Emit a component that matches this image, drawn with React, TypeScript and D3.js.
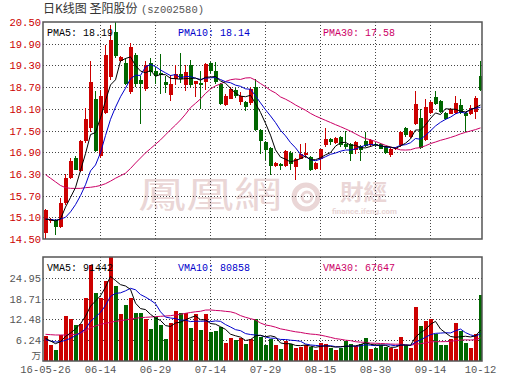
import React from 'react';
import * as d3 from 'd3';

// daily candles, 2016-05-26 .. 2016-10-12
const opens = [
  14.67, 14.99, 15.03, 14.84, 15.5, 16.19, 16.75, 16.38, 17.22, 17.58,
  18.37, 16.79, 17.99, 18.98, 20.22, 19.42, 19.37, 18.56, 19.6, 18.9,
  18.66, 19.37, 19.14, 19.09, 18.84, 18.49, 18.93, 19.07, 18.77, 19.3,
  18.79, 18.8, 18.84, 19.37, 19.15, 18.79, 18.21, 18.38, 18.62, 18.3,
  18.3, 18.25, 18.7, 17.52, 17.18, 17.02, 16.52, 16.58, 16.52, 16.89,
  16.49, 16.72, 16.83, 16.77, 16.43, 16.72, 17.09, 17.27, 17.16, 17.32,
  17.14, 17.14, 16.95, 17.07, 17.2, 17.09, 17.12, 17.14, 17.04, 16.83,
  17.0, 17.09, 17.57, 17.32, 17.69, 17.85, 17.23, 17.99, 18.43, 18.32,
  17.99, 17.97, 17.99, 18.2, 17.99, 17.97, 18.02, 19.01,
];
const highs = [
  15.34, 15.08, 15.05, 15.62, 16.31, 16.74, 16.8, 17.25, 18.12, 19.42,
  18.6, 18.62, 19.87, 20.43, 20.6, 19.56, 19.5, 19.92, 19.65, 19.02,
  19.42, 19.5, 19.25, 19.61, 19.0, 19.03, 19.32, 19.65, 19.3, 19.45,
  18.88, 19.14, 19.38, 19.4, 19.4, 18.82, 18.5, 18.69, 18.68, 18.56,
  18.32, 18.7, 18.93, 17.55, 17.2, 17.05, 16.63, 16.6, 16.95, 16.92,
  16.75, 17.14, 17.15, 16.8, 16.63, 17.0, 17.57, 17.3, 17.32, 17.35,
  17.48, 17.16, 17.2, 17.1, 17.46, 17.26, 17.15, 17.16, 17.06, 17.03,
  17.05, 17.5, 17.6, 17.52, 18.58, 18.1, 18.36, 18.32, 18.58, 18.35,
  18.02, 18.12, 18.45, 18.38, 18.02, 18.2, 18.45, 19.42,
];
const lows = [
  14.51, 14.95, 14.62, 14.8, 15.45, 16.15, 16.4, 16.35, 17.15, 17.45,
  16.9, 16.75, 17.95, 18.9, 19.5, 19.4, 18.75, 18.5, 18.7, 17.69,
  18.6, 19.0, 18.78, 18.52, 18.55, 18.31, 18.75, 18.8, 18.6, 18.7,
  18.43, 18.09, 18.61, 19.1, 18.78, 18.2, 18.18, 18.36, 18.4, 18.2,
  18.05, 18.2, 17.5, 16.84, 16.68, 16.26, 16.48, 16.4, 16.48, 16.4,
  16.12, 16.7, 16.75, 16.38, 16.4, 16.4, 17.05, 17.1, 17.12, 17.05,
  17.0, 16.67, 16.86, 16.67, 17.05, 17.05, 17.05, 16.98, 16.85, 16.78,
  16.97, 17.05, 17.33, 17.28, 17.65, 16.98, 17.2, 17.95, 18.2, 17.98,
  17.8, 17.95, 17.96, 17.96, 17.46, 17.92, 17.83, 18.58,
];
const closes = [
  15.31, 15.06, 14.84, 15.5, 16.2, 16.65, 16.42, 17.2, 17.82, 18.84,
  16.94, 18.45, 19.58, 19.99, 19.55, 19.54, 18.79, 19.81, 18.79, 18.79,
  19.3, 19.12, 19.0, 19.03, 18.77, 18.79, 19.07, 18.93, 19.12, 18.77,
  18.86, 18.77, 19.35, 19.15, 18.84, 18.24, 18.45, 18.66, 18.45, 18.45,
  18.16, 18.65, 17.52, 17.22, 16.95, 16.52, 16.61, 16.52, 16.93, 16.58,
  16.72, 16.86, 16.88, 16.4, 16.61, 16.98, 17.27, 17.18, 17.29, 17.09,
  17.04, 16.86, 17.18, 16.95, 17.07, 17.23, 17.1, 17.0, 16.89, 17.0,
  17.02, 17.46, 17.37, 17.48, 18.24, 17.02, 18.15, 18.28, 18.24, 18.01,
  17.83, 18.09, 18.26, 17.99, 17.9, 18.12, 18.4, 18.61,
];
// volume, 万 (10k)
const volumes = [
  7.5, 4.8, 3.3, 7.7, 13.5, 12.7, 10.8, 11.2, 18.8, 28.7,
  20.4, 18.8, 24.0, 35.0, 22.5, 14.2, 16.8, 18.8, 14.4, 14.4,
  12.7, 9.7, 13.3, 10.7, 6.7, 11.4, 15.0, 14.3, 14.3, 10.0,
  14.0, 9.3, 14.2, 8.7, 9.0, 10.2, 5.3, 7.0, 6.3, 7.0,
  5.2, 6.5, 12.7, 7.2, 4.7, 6.7, 4.7, 3.7, 6.0, 5.0,
  4.0, 4.3, 4.7, 4.3, 3.3, 5.3, 5.0, 4.0, 3.2, 4.0,
  6.0, 5.0, 4.5, 5.0, 7.0, 3.5, 4.0, 4.7, 4.3, 4.0,
  3.7, 7.2, 4.7, 3.9, 16.2, 10.5, 12.0, 12.5, 8.2, 4.8,
  4.8, 6.5, 11.3, 9.0, 5.5, 3.8, 8.0, 19.8,
];

// moving-average values at the start of the window (history before 05-26 is not shown)
const pma5Head = [15.05, 15.03, 15.0, 15.05];
const pma10Head = [15.05, 15.04, 15.02, 15.05, 15.1, 15.25, 15.45, 15.7, 16.0];
const pma30Head = [
  16.28, 16.18, 16.08, 15.98, 15.92, 15.9, 15.9, 15.9, 15.92, 15.93,
  15.95, 15.98, 16.03, 16.1, 16.18, 16.25, 16.32, 16.45, 16.6, 16.74,
  16.88, 17.0, 17.12, 17.24, 17.38, 17.52, 17.65, 17.79, 17.95,
];
const vma5Head = [6.8, 6.0, 5.2, 5.8];
const vma10Head = [6.4, 6.0, 5.7, 5.8, 6.2, 6.8, 7.6, 8.5, 9.6];
const vma30Head = [
  8.0, 7.9, 7.8, 7.8, 7.8, 7.9, 8.0, 8.3, 9.0, 10.0,
  10.5, 11.0, 11.3, 11.6, 11.9, 12.1, 12.3, 12.6, 12.8, 13.0,
  13.1, 13.2, 13.3, 13.4, 13.5, 13.6, 13.8, 14.0, 14.3,
];

const priceTicks = [14.5, 15.1, 15.7, 16.3, 16.9, 17.5, 18.1, 18.7, 19.3, 19.9, 20.5];
const volumeTicks = [6.24, 12.48, 18.71, 24.95];
const volumeMax = 31.19;
const dateLabels = ['16-05-26', '06-14', '06-29', '07-14', '07-29', '08-15', '08-30', '09-14', '10-12'];
const dateIndex = [0, 11, 22, 33, 44, 55, 66, 77, 87];

const priceLegend = ['PMA5: 18.19', 'PMA10: 18.14', 'PMA30: 17.58'];
const volumeLegend = ['VMA5: 91442', 'VMA10: 80858', 'VMA30: 67647'];

const RED = '#cc0000';
const GREEN = '#006600';
const MA_COLORS = ['#000000', '#0000cc', '#cc0066'];
const MONO = '"Liberation Mono", "DejaVu Sans Mono", monospace';

function movingAvg(values: number[], n: number, head: number[]) {
  return values.map((_, i) => (i < n - 1 ? head[i] : d3.mean(values.slice(i - n + 1, i + 1)) as number));
}

const App: React.FC = () => {
  const ref = React.useRef<HTMLDivElement>(null);

  React.useEffect(() => {
    const W = 530;
    const H = 391;
    const left = 43;
    const right = 482;
    const pTop = 22;
    const pBottom = 239;
    const vTop = 257;
    const vBottom = 361;
    const n = closes.length;

    d3.select(ref.current).selectAll('*').remove();
    const svg = d3
      .select(ref.current)
      .append('svg')
      .attr('width', W)
      .attr('height', H)
      .style('display', 'block')
      .style('background', '#fff');

    const x = d3
      .scaleBand<number>()
      .domain(d3.range(n))
      .range([left, right + 1])
      .paddingInner(0.2)
      .paddingOuter(0.1);
    const bx = (i: number) => Math.round(x(i) as number);
    const cx = (i: number) => bx(i) + 1.5;
    const bw = Math.round(x.bandwidth());

    const y = d3.scaleLinear().domain([14.5, 20.5]).range([pBottom, pTop]);
    const vy = d3.scaleLinear().domain([0, volumeMax]).range([vBottom, vTop]);

    const defs = svg.append('defs');
    defs.append('clipPath').attr('id', 'clipP')
      .append('rect').attr('x', left).attr('y', pTop).attr('width', right - left).attr('height', pBottom - pTop);
    defs.append('clipPath').attr('id', 'clipV')
      .append('rect').attr('x', left).attr('y', vTop).attr('width', right - left).attr('height', vBottom - vTop);

    // title
    svg.append('text').attr('x', 43).attr('y', 13)
      .style('font-family', '"Noto Sans CJK SC", sans-serif').style('font-size', '12px').attr('fill', '#333')
      .text('日K线图 圣阳股份');
    svg.append('text').attr('x', 141).attr('y', 12.5).attr('fill', '#555')
      .style('font-family', MONO).style('font-size', '10.5px').text('(sz002580)');

    // watermark
    const wm = svg.append('g').attr('fill', '#ead6d6');
    wm.append('text').attr('x', 138).attr('y', 208).attr('textLength', 144).attr('lengthAdjust', 'spacingAndGlyphs')
      .style('font-family', '"Noto Sans CJK TC", sans-serif').style('font-size', '36px').text('鳳凰網');
    wm.append('circle').attr('cx', 306).attr('cy', 197).attr('r', 12).attr('fill', 'none').attr('stroke', '#ead6d6').attr('stroke-width', 5);
    wm.append('circle').attr('cx', 307).attr('cy', 197).attr('r', 5).attr('fill', 'none').attr('stroke', '#ead6d6').attr('stroke-width', 3);
    wm.append('text').attr('x', 340).attr('y', 200).attr('textLength', 47).attr('lengthAdjust', 'spacingAndGlyphs')
      .style('font-family', '"Noto Sans CJK TC", sans-serif').style('font-size', '22px').style('font-weight', 'bold').text('財經');
    wm.append('text').attr('x', 332).attr('y', 214).attr('textLength', 65).attr('lengthAdjust', 'spacingAndGlyphs')
      .style('font-family', 'Roboto, sans-serif').style('font-size', '8px').style('font-weight', 'bold').text('finance.ifeng.com');

    // grid
    const grid = svg.append('g').attr('stroke', '#444').attr('stroke-dasharray', '1,2').attr('shape-rendering', 'crispEdges');
    priceTicks.slice(1, -1).forEach((t) => {
      grid.append('line').attr('x1', left).attr('x2', right).attr('y1', Math.round(y(t)) + 0.5).attr('y2', Math.round(y(t)) + 0.5);
    });
    volumeTicks.forEach((t) => {
      grid.append('line').attr('x1', left).attr('x2', right).attr('y1', Math.round(vy(t)) + 0.5).attr('y2', Math.round(vy(t)) + 0.5);
    });
    dateIndex.slice(1, -1).forEach((i) => {
      grid.append('line').attr('x1', cx(i)).attr('x2', cx(i)).attr('y1', pTop).attr('y2', pBottom);
      grid.append('line').attr('x1', cx(i)).attr('x2', cx(i)).attr('y1', vTop).attr('y2', vBottom);
    });

    // candles
    const candles = svg.append('g').attr('clip-path', 'url(#clipP)').attr('shape-rendering', 'crispEdges');
    closes.forEach((c, i) => {
      const o = opens[i];
      const col = c >= o ? RED : GREEN;
      candles.append('line').attr('x1', cx(i)).attr('x2', cx(i)).attr('y1', y(highs[i])).attr('y2', y(lows[i]))
        .attr('stroke', col).attr('stroke-width', 1);
      const top = y(Math.max(o, c));
      candles.append('rect').attr('x', bx(i)).attr('width', bw).attr('y', top)
        .attr('height', Math.max(1, y(Math.min(o, c)) - top)).attr('fill', col);
    });

    // volume bars
    const vol = svg.append('g').attr('clip-path', 'url(#clipV)').attr('shape-rendering', 'crispEdges');
    volumes.forEach((v, i) => {
      vol.append('rect').attr('x', bx(i)).attr('width', bw).attr('y', vy(v)).attr('height', vBottom - vy(v))
        .attr('fill', closes[i] >= opens[i] ? RED : GREEN);
    });

    // moving averages
    const pmas = [movingAvg(closes, 5, pma5Head), movingAvg(closes, 10, pma10Head), movingAvg(closes, 30, pma30Head)];
    const vmas = [movingAvg(volumes, 5, vma5Head), movingAvg(volumes, 10, vma10Head), movingAvg(volumes, 30, vma30Head)];
    const pLine = d3.line<number>().x((_, i) => cx(i)).y((d) => y(d));
    const vLine = d3.line<number>().x((_, i) => cx(i)).y((d) => vy(d));
    [2, 1, 0].forEach((k) => {
      svg.append('path').datum(pmas[k]).attr('clip-path', 'url(#clipP)').attr('fill', 'none')
        .attr('stroke', MA_COLORS[k]).attr('stroke-width', 1).attr('d', pLine);
      svg.append('path').datum(vmas[k]).attr('clip-path', 'url(#clipV)').attr('fill', 'none')
        .attr('stroke', MA_COLORS[k]).attr('stroke-width', 1).attr('d', vLine);
    });

    // frames
    svg.append('rect').attr('x', left).attr('y', pTop).attr('width', right - left).attr('height', pBottom - pTop)
      .attr('fill', 'none').attr('stroke', '#555').attr('stroke-width', 1.5);
    svg.append('rect').attr('x', left).attr('y', vTop).attr('width', right - left).attr('height', vBottom - vTop)
      .attr('fill', 'none').attr('stroke', '#555').attr('stroke-width', 1.5);

    // legends
    const legX = [47, 178, 323];
    priceLegend.forEach((t, k) => {
      svg.append('text').attr('x', legX[k]).attr('y', 36).attr('fill', MA_COLORS[k])
        .style('font-family', MONO).style('font-size', '10px').text(t);
    });
    volumeLegend.forEach((t, k) => {
      svg.append('text').attr('x', legX[k]).attr('y', 271).attr('fill', MA_COLORS[k])
        .style('font-family', MONO).style('font-size', '10px').text(t);
    });

    // axis labels
    priceTicks.forEach((t) => {
      svg.append('text').attr('x', 41).attr('y', y(t) + 4).attr('text-anchor', 'end').attr('fill', RED)
        .style('font-family', MONO).style('font-size', '10.5px').text(t.toFixed(2));
    });
    volumeTicks.forEach((t) => {
      svg.append('text').attr('x', 41).attr('y', vy(t) + 4).attr('text-anchor', 'end').attr('fill', '#555')
        .style('font-family', MONO).style('font-size', '10.5px').text(t.toFixed(2));
    });
    svg.append('text').attr('x', 41).attr('y', 359).attr('text-anchor', 'end').attr('fill', '#555')
      .style('font-family', '"Noto Sans CJK SC", sans-serif').style('font-size', '9.5px').text('万');
    dateIndex.forEach((i, k) => {
      svg.append('text').attr('x', cx(i)).attr('y', 373).attr('text-anchor', 'middle').attr('fill', '#555')
        .style('font-family', MONO).style('font-size', '10.5px').text(dateLabels[k]);
    });
  }, []);

  return <div ref={ref} style={{ position: 'absolute', left: 0, top: 0 }}></div>;
};

export default App;
